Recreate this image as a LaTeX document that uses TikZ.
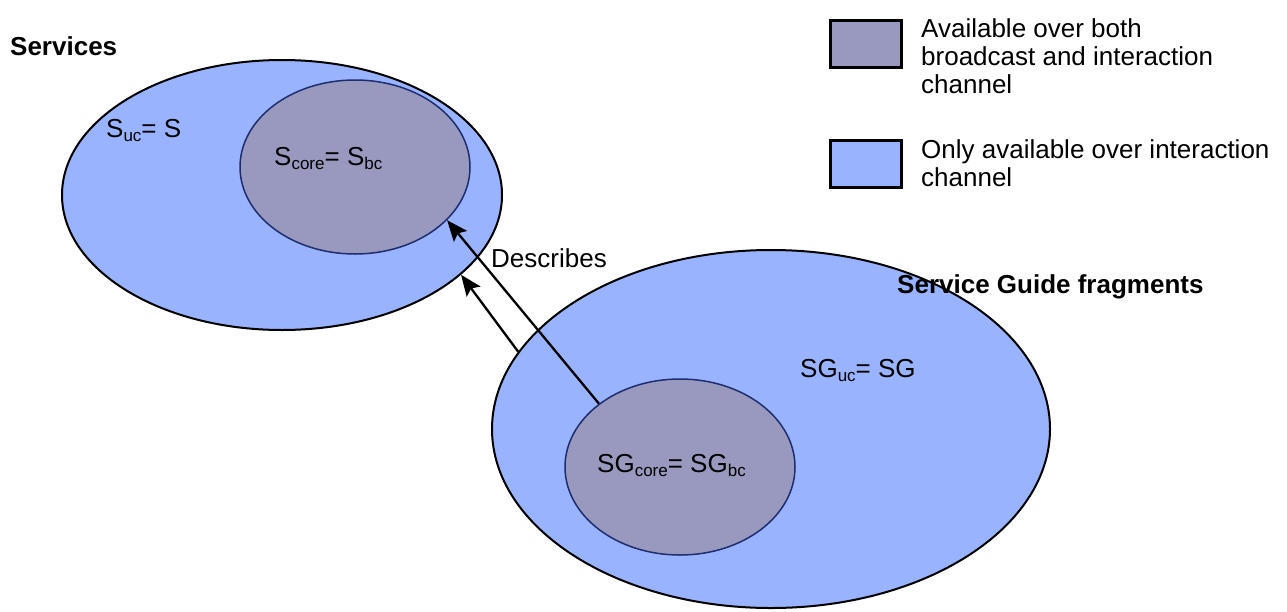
\documentclass[tikz,border=0pt]{standalone}
\usepackage{fontspec}
\setmainfont{Liberation Sans}
\usetikzlibrary{shapes.geometric,arrows.meta}
\definecolor{outerblue}{RGB}{153,179,255}
\definecolor{innerpurple}{RGB}{153,153,192}
\definecolor{innerline}{RGB}{30,45,110}
\newcommand{\sbx}[1]{\raisebox{-4pt}{\fontsize{17}{17}\selectfont #1}}
\tikzset{
  outerell/.style={ellipse, draw=black, line width=2pt, fill=outerblue, inner sep=0pt},
  innerell/.style={ellipse, draw=innerline, line width=1.5pt, fill=innerpurple, inner sep=0pt},
  lbl/.style={inner sep=0pt, anchor=base west, font=\fontsize{26}{28}\selectfont},
  title/.style={lbl, font=\fontsize{26}{28}\selectfont\bfseries},
  legbox/.style={draw=black, line width=2.5pt, minimum width=71pt, minimum height=47pt, inner sep=0pt, anchor=north west},
  arr/.style={line width=2.3pt, -{Stealth[length=21pt,width=17pt,inset=4pt]}}
}
\begin{document}
\begin{tikzpicture}[x=1pt,y=-1pt]
\useasboundingbox (0,0) rectangle (1287,611);
% ellipses
\node[outerell, minimum width=440pt, minimum height=270pt] (svc) at (282,195) {};
\node[innerell, minimum width=230pt, minimum height=174pt] (score) at (355,167) {};
\node[outerell, minimum width=558pt, minimum height=358pt] (sg) at (771,429) {};
\node[innerell, minimum width=230pt, minimum height=176pt] (sgcore) at (680,467) {};
% labels
\node[title] (svct) at (10,55) {Services};
\node[title] (sgt) at (897,293) {Service Guide fragments};
\node[lbl] (suc) at (106,137) {S\sbx{uc}= S};
\node[lbl] (scl) at (274,165) {S\sbx{core}= S\sbx{bc}};
\node[lbl] (sguc) at (800,377) {SG\sbx{uc}= SG};
\node[lbl] (sgcl) at (597,472) {SG\sbx{core}= SG\sbx{bc}};
\node[lbl] (desc) at (491,267) {Describes};
% arrows
\draw[arr] (sgcore.142) -- (score.-30.5);
\draw[arr] (sg.163.7) -- (svc.-24.8);
% legend
\node[legbox, fill=innerpurple] (leg1) at (829,19) {};
\node[legbox, fill=outerblue] (leg2) at (829,139) {};
\node[lbl, align=left, anchor=north west] (leg1t) at (921,18) {Available over both\\broadcast and interaction\\channel};
\node[lbl, align=left, anchor=north west] (leg2t) at (921,139) {Only available over interaction\\channel};
\end{tikzpicture}
\end{document}
